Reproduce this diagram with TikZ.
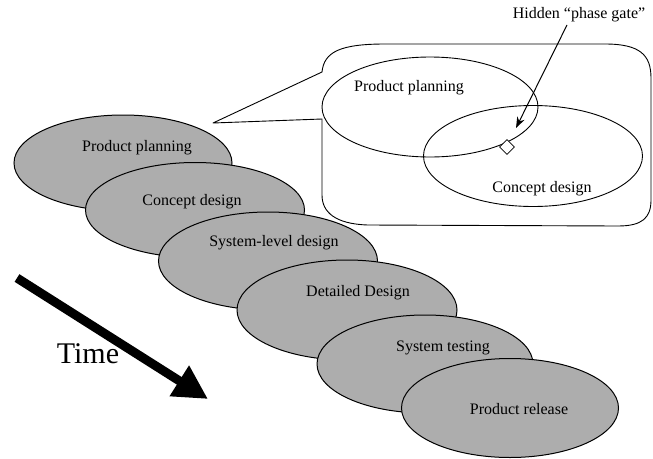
\documentclass[tikz,border=0pt]{standalone}
\usepackage{fontspec}
\setmainfont{Liberation Serif}
\usetikzlibrary{shapes.geometric,arrows.meta}
\definecolor{phasegray}{gray}{0.68}
\tikzset{
  phase/.style={ellipse, draw=black, line width=1pt, fill=phasegray, inner sep=0pt},
  zoomphase/.style={ellipse, draw=black, line width=0.9pt, inner sep=0pt},
  lbl/.style={inner sep=0pt, font=\fontsize{16}{19}\selectfont},
  gate/.style={diamond, draw=black, fill=white, line width=0.8pt, inner sep=0pt, minimum size=15pt},
  bubble/.style={draw=black, line width=0.9pt, fill=white, line join=round},
  timearrow/.style={line width=9pt, -{Triangle[length=34pt,width=34pt]}},
}
\begin{document}
\begin{tikzpicture}[x=1pt,y=-1pt]
\useasboundingbox (0,0) rectangle (653,458);

% callout bubble with its pointer
\coordinate (tip) at (213,123);
\draw[bubble] (322,119) -- (tip) -- (322,72)
  .. controls (324,52) and (340,44) .. (385,44) -- (605,44)
  .. controls (640,44) and (651,55) .. (651,78) -- (651,200)
  .. controls (651,218) and (642,226) .. (618,226) -- (368,225)
  .. controls (335,224) and (322,212) .. (322,195) -- cycle;

% enlarged view of the first two phases
\node[zoomphase, minimum width=216pt, minimum height=100pt] (zpp) at (430,107) {};
\node[zoomphase, minimum width=219pt, minimum height=101pt] (zcd) at (533,156) {};
\node[lbl] (tzpp) at (409,88) {Product planning};
\node[lbl] (tzcd) at (542,189) {Concept design};
\node[gate] (gate) at (507,147) {};
\node[lbl] (hidden) at (579,15) {Hidden “phase gate”};
\coordinate (gatetip) at (516,128);
\draw[line width=1pt, -{Stealth[length=11pt,width=8pt]}] (567,25) -- (gatetip);

% the sequence of overlapping phases
\node[phase, minimum width=218pt, minimum height=96pt] (p1) at (123,163) {};
\node[lbl] (t1) at (137,148) {Product planning};
\node[phase, minimum width=219pt, minimum height=95pt] (p2) at (195,210) {};
\node[lbl] (t2) at (192,202) {Concept design};
\node[phase, minimum width=219pt, minimum height=98pt] (p3) at (268,261) {};
\node[lbl] (t3) at (274,243) {System-level design};
\node[phase, minimum width=220pt, minimum height=100pt] (p4) at (347,310) {};
\node[lbl] (t4) at (358,293) {Detailed Design};
\node[phase, minimum width=216pt, minimum height=98pt] (p5) at (425,364) {};
\node[lbl] (t5) at (443,348) {System testing};
\node[phase, minimum width=217pt, minimum height=99pt] (p6) at (510,408) {};
\node[lbl] (t6) at (519,409) {Product release};

% time axis
\coordinate (tstart) at (17,278);
\coordinate (tend) at (208,399);
\draw[timearrow] (tstart) -- (tend);
\node[inner sep=0pt, font=\fontsize{30}{34}\selectfont] (time) at (88,354) {Time};
\end{tikzpicture}
\end{document}
